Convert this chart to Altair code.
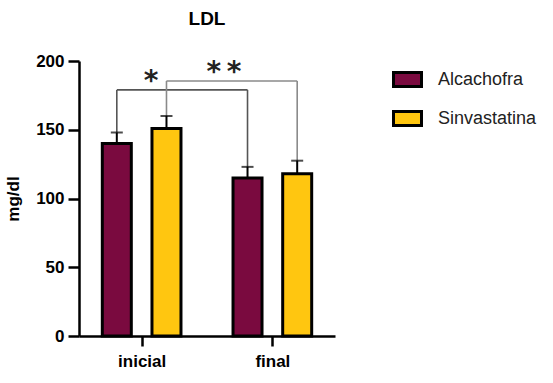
import altair as alt
import pandas as pd

# Groups, series and measured values (mg/dl)
groups = ["inicial", "final"]
series = ["Alcachofra", "Sinvastatina"]
colors = ["#7A0A3F", "#FFC610"]
alcachofra_mean = [140, 115]
alcachofra_sd = [8, 8]
sinvastatina_mean = [151, 118]
sinvastatina_sd = [9, 9.5]

# Significance brackets: series compared between inicial and final
bracket_series = ["Alcachofra", "Sinvastatina"]
bracket_labels = ["*", "*\u2009*"]
bracket_heights = [179, 185.5]
bracket_colors = ["#555555", "#8a8a8a"]

FONT = "Liberation Sans"
OFFSET = 0.19  # half distance between paired bars, in group units

means = {"Alcachofra": alcachofra_mean, "Sinvastatina": sinvastatina_mean}
sds = {"Alcachofra": alcachofra_sd, "Sinvastatina": sinvastatina_sd}
rows = []
for si, s in enumerate(series):
    for gi, g in enumerate(groups):
        m = means[s][gi]
        rows.append({
            "serie": s, "grupo": g,
            "pos": gi + (-OFFSET if si == 0 else OFFSET),
            "media": m, "sup": m + sds[s][gi],
        })
df = pd.DataFrame(rows)

seg_rows, lab_rows = [], []
for bi, s in enumerate(bracket_series):
    sub = df[df.serie == s].set_index("grupo")
    x1, x2 = sub.loc[groups[0], "pos"], sub.loc[groups[1], "pos"]
    h = bracket_heights[bi]
    c = bracket_colors[bi]
    seg_rows += [
        {"x": x1, "x2": x1, "y": sub.loc[groups[0], "sup"], "y2": h, "c": c},
        {"x": x1, "x2": x2, "y": h, "y2": h, "c": c},
        {"x": x2, "x2": x2, "y": sub.loc[groups[1], "sup"], "y2": h, "c": c},
    ]
    lab_rows.append({"x": (x1 + x2) / 2, "y": h, "t": bracket_labels[bi], "i": bi})
seg = pd.DataFrame(seg_rows)
labs = pd.DataFrame(lab_rows)

label_expr = " : ".join(
    [f"datum.value == {i} ? '{g}'" for i, g in enumerate(groups)] + ["''"]
)

xscale = alt.Scale(domain=[-0.441, 1.441], nice=False, zero=False)
yscale = alt.Scale(domain=[0, 200], nice=False)

x_axis = alt.Axis(values=list(range(len(groups))), labelExpr=label_expr, title=None,
                  grid=False, tickSize=10, labelPadding=7, labelFontSize=17,
                  labelFontWeight="bold")
y_axis = alt.Axis(values=[0, 50, 100, 150, 200], title="mg/dl", grid=False,
                  tickSize=11, labelPadding=4, labelFontSize=17, labelFontWeight="bold",
                  titleFontSize=17, titleFontWeight="bold", titlePadding=13)

base = alt.Chart(df)

bars = base.mark_bar(size=29, stroke="black", strokeWidth=3).encode(
    x=alt.X("pos:Q", scale=xscale, axis=x_axis),
    y=alt.Y("media:Q", scale=yscale, axis=y_axis),
    fill=alt.Fill("serie:N", scale=alt.Scale(domain=series, range=colors),
                  legend=alt.Legend(title=None, orient="none", legendX=313, legendY=3)),
)

err = base.mark_rule(color="black", strokeWidth=2).encode(
    x="pos:Q", y="media:Q", y2="sup:Q"
)
caps = base.mark_tick(color="black", orient="horizontal", size=12, thickness=2).encode(
    x="pos:Q", y="sup:Q"
)

segs = alt.Chart(seg).mark_rule(strokeWidth=1.6).encode(
    x="x:Q", x2="x2:Q", y="y:Q", y2="y2:Q",
    color=alt.Color("c:N", scale=None),
)

star1 = alt.Chart(labs[labs.i == 0]).mark_text(
    font="DejaVu Sans", fontSize=28, fontWeight="bold", color="#222", dx=-31, dy=0,
    baseline="alphabetic"
).encode(x="x:Q", y="y:Q", text="t:N")
star2 = alt.Chart(labs[labs.i == 1]).mark_text(
    font="DejaVu Sans", fontSize=28, fontWeight="bold", color="#222", dx=-8, dy=0,
    baseline="alphabetic"
).encode(x="x:Q", y="y:Q", text="t:N")

chart = (
    alt.layer(segs, bars, err, caps, star1, star2)
    .properties(
        width=256, height=275,
        title=alt.Title("LDL", fontSize=19, font=FONT, fontWeight="bold",
                        anchor="middle", offset=23, color="black"),
        autosize=alt.AutoSizeParams(type="none"),
        padding={"left": 79, "top": 61, "right": 218, "bottom": 47},
    )
    .configure_view(stroke=None)
    .configure_axis(domainColor="black", domainWidth=2.5, tickColor="black",
                    tickWidth=2.5, labelColor="black", titleColor="black",
                    labelFont=FONT, titleFont=FONT)
    .configure_legend(symbolType="M-1,-0.5H1V0.5H-1Z", symbolSize=784,
                      symbolStrokeColor="black", symbolStrokeWidth=3,
                      symbolOpacity=1, labelFont=FONT, labelFontSize=18,
                      labelColor="#222", labelOffset=15, rowPadding=10,
                      labelLimit=300, padding=0)
)

chart.save("out.html", embed_options={"renderer": "svg", "actions": False})
